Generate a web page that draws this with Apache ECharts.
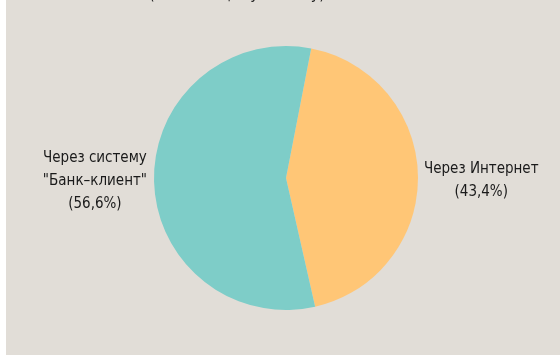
<!DOCTYPE html>
<html>
<head>
<meta charset="utf-8">
<script src="https://cdn.jsdelivr.net/npm/echarts@6/dist/echarts.min.js"></script>
<style>
html,body{margin:0;padding:0;background:#fff;}
#chart{position:absolute;left:6px;top:0;width:554px;height:355px;}
</style>
</head>
<body>
<div id="chart"></div>
<script>
// ==================== DATA ====================
const titleText='(в % к общему объему)';
const names=['Через Интернет','Через систему\n"Банк\u2013клиент"'];
const shares=[43.4,56.6];
const colors=['#ffc676','#7ecdc8'];

const FONT='"Liberation Sans Narrow","DejaVu Sans Condensed",sans-serif';
const chart=echarts.init(document.getElementById('chart'));

// small nudges so the labels sit where the original put them
const labelShift=[[-3,5],[2,1]];

chart.setOption({
  backgroundColor:'#e1ddd7',
  animation:false,
  title:{text:titleText,left:138,top:-18,textStyle:{fontFamily:FONT,fontSize:16,fontWeight:'normal',color:'#222'}},
  series:[{
    type:'pie',
    center:[280,178],
    radius:132,
    startAngle:79,
    clockwise:true,
    data:names.map((n,i)=>({name:n,value:shares[i],itemStyle:{color:colors[i]}})),
    label:{
      show:true,position:'outside',
      formatter:p=>p.name+'\n('+p.value.toFixed(1).replace('.',',')+'%)',
      fontFamily:FONT,fontSize:15,lineHeight:23,color:'#1a1a1a'
    },
    labelLine:{show:false,length:4,length2:0},
    labelLayout:p=>({
      align:'center',
      x:p.labelRect.x+p.labelRect.width/2+labelShift[p.dataIndex][0],
      y:p.labelRect.y+p.labelRect.height/2+labelShift[p.dataIndex][1],
      verticalAlign:'middle'
    }),
    emphasis:{disabled:true}
  }]
});
</script>
</body>
</html>
